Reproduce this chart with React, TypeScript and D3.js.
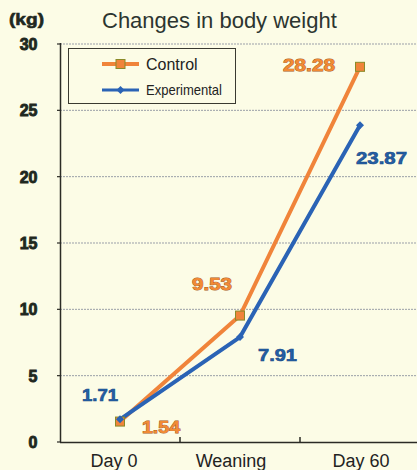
import React from "react";
import * as d3 from "d3";

const categories = ["Day 0", "Weaning", "Day 60"];
const controlValues = [1.54, 9.53, 28.28];
const experimentalValues = [1.71, 7.91, 23.87];
const yTicks = [0, 5, 10, 15, 20, 25, 30];
const controlLabels = ["1.54", "9.53", "28.28"];
const experimentalLabels = ["1.71", "7.91", "23.87"];

const W = 417;
const H = 470;
const BG = "#fcfce6";
const ORANGE = "#f0843a";
const BLUE = "#2a63b5";
const INK = "#1f2820";

export default function App() {
  const x = d3.scalePoint<string>().domain(categories).range([120, 360]);
  const xBand = d3.scaleBand<string>().domain(categories).range([60, 420]);
  const y = d3.scaleLinear().domain([0, 30]).range([442, 44]);
  const line = d3
    .line<number>()
    .x((_, i) => x(categories[i]) as number)
    .y((d) => y(d));

  // label offsets relative to data point [dx, dy, width]
  const ctrlLabelPos = [
    [22, 11.5, 38],
    [-48, -25.5, 40],
    [-77, 4, 52],
  ];
  const expLabelPos = [
    [-38, -18, 36],
    [18, 24, 39],
    [-4, 39, 51],
  ];

  return (
    <svg
      width={W}
      height={H}
      style={{ position: "absolute", left: 0, top: 0, display: "block" }}
      fontFamily="'Liberation Sans', Arial, sans-serif"
    >
      <rect x={0} y={0} width={W} height={H} fill={BG} />
      {/* gridlines */}
      {yTicks.filter((t) => t > 0).map((t) => (
        <line
          key={t}
          x1={60}
          x2={W}
          y1={y(t)}
          y2={y(t)}
          stroke="#9a9fa8"
          strokeWidth={1}
          strokeDasharray="2 1"
        />
      ))}
      {/* axes */}
      <line x1={60.5} x2={60.5} y1={43} y2={442} stroke="#2b2b25" strokeWidth={1.5} />
      <line x1={60} x2={W} y1={442.5} y2={442.5} stroke="#2b2b25" strokeWidth={1.5} />
      {yTicks.map((t) => (
        <line key={t} x1={57} x2={61} y1={y(t)} y2={y(t)} stroke="#2b2b25" strokeWidth={1.2} />
      ))}
      {xBand
        .domain()
        .slice(1)
        .map((c) => (
          <line
            key={c}
            x1={xBand(c) as number}
            x2={xBand(c) as number}
            y1={437}
            y2={442}
            stroke="#2b2b25"
            strokeWidth={1.5}
          />
        ))}
      {/* y tick labels */}
      {yTicks.map((t) => (
        <text
          key={t}
          x={37.5}
          y={y(t) + 6}
          textAnchor="end"
          fontSize={16}
          fontWeight="bold"
          fill={INK}
          stroke={INK}
          strokeWidth={0.9}
        >
          {t}
        </text>
      ))}
      <text
        x={9}
        y={25}
        fontSize={16}
        fontWeight="bold"
        fill={INK}
        stroke={INK}
        strokeWidth={0.6}
        textLength={35}
        lengthAdjust="spacingAndGlyphs"
      >
        (kg)
      </text>
      <text x={102} y={28} fontSize={22} fill="#2c3530">
        Changes in body weight
      </text>
      {/* x labels */}
      {categories.map((c, i) => (
        <text
          key={c}
          x={(x(c) as number) + [-6, -9, 1][i]}
          y={467}
          textAnchor="middle"
          fontSize={18}
          fill="#23231e"
        >
          {c}
        </text>
      ))}
      {/* lines */}
      <path d={line(controlValues) || ""} fill="none" stroke={ORANGE} strokeWidth={4} />
      <path d={line(experimentalValues) || ""} fill="none" stroke={BLUE} strokeWidth={4} />
      {controlValues.map((v, i) => (
        <rect
          key={i}
          x={(x(categories[i]) as number) - 4.5}
          y={y(v) - 4.5}
          width={9}
          height={9}
          fill={ORANGE}
          stroke="#8a8a28"
          strokeWidth={1}
        />
      ))}
      {experimentalValues.map((v, i) => {
        const cx = x(categories[i]) as number;
        const cy = y(v);
        return (
          <path
            key={i}
            d={`M${cx},${cy - 4}L${cx + 4},${cy}L${cx},${cy + 4}L${cx - 4},${cy}Z`}
            fill={BLUE}
          />
        );
      })}
      {/* data labels */}
      {controlValues.map((v, i) => (
        <text
          key={i}
          x={(x(categories[i]) as number) + ctrlLabelPos[i][0]}
          y={y(v) + ctrlLabelPos[i][1]}
          fontSize={16}
          fontWeight="bold"
          fill="#f28a34"
          stroke="#a65a1c"
          strokeWidth={0.8}
          textLength={ctrlLabelPos[i][2]}
          lengthAdjust="spacingAndGlyphs"
          style={{ paintOrder: "stroke" }}
        >
          {controlLabels[i]}
        </text>
      ))}
      {experimentalValues.map((v, i) => (
        <text
          key={i}
          x={(x(categories[i]) as number) + expLabelPos[i][0]}
          y={y(v) + expLabelPos[i][1]}
          fontSize={16}
          fontWeight="bold"
          fill="#2360a8"
          stroke="#1c4a85"
          strokeWidth={0.6}
          textLength={expLabelPos[i][2]}
          lengthAdjust="spacingAndGlyphs"
        >
          {experimentalLabels[i]}
        </text>
      ))}
      {/* legend */}
      <rect x={68.5} y={48.5} width={167} height={55} fill={BG} stroke="#3a3a30" strokeWidth={1} />
      <line x1={102} x2={139} y1={64} y2={64} stroke={ORANGE} strokeWidth={4} />
      <rect x={116} y={59.5} width={9} height={9} fill={ORANGE} stroke="#8a8a28" strokeWidth={1} />
      <text x={146} y={70} fontSize={16} fill="#23231e">
        Control
      </text>
      <line x1={102} x2={139} y1={90} y2={90} stroke={BLUE} strokeWidth={3} />
      <path d="M120.5,86L124.5,90L120.5,94L116.5,90Z" fill={BLUE} />
      <text
        x={146}
        y={95}
        fontSize={15}
        fill="#23231e"
        textLength={76}
        lengthAdjust="spacingAndGlyphs"
      >
        Experimental
      </text>
    </svg>
  );
}
